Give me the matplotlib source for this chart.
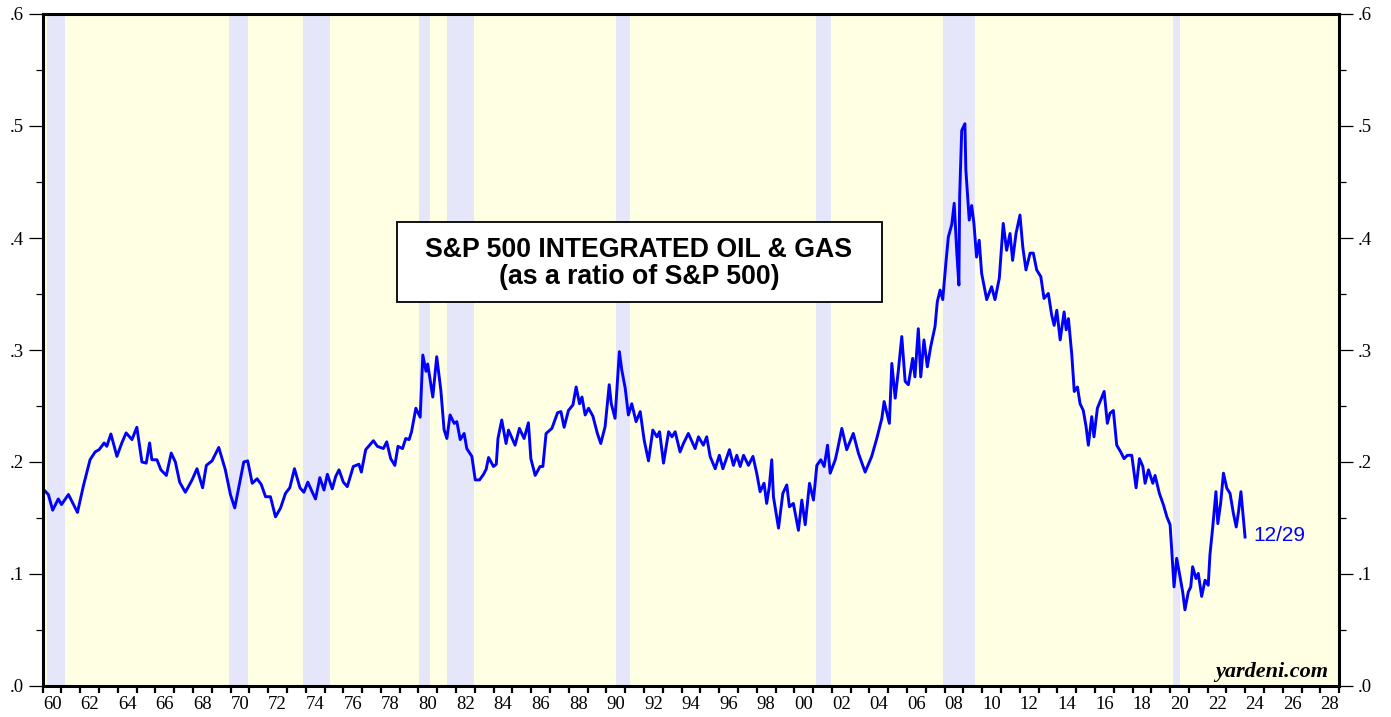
import matplotlib
matplotlib.use("Agg")
import matplotlib.pyplot as plt
from matplotlib.patches import Rectangle
from matplotlib.ticker import FixedLocator, FixedFormatter, NullFormatter

# ---------------- data (decimal year, ratio) ----------------
years = [
    1960.07, 1960.30, 1960.53, 1960.83, 1961.00, 1961.37, 1961.85, 1962.17, 1962.52, 1962.79,
    1963.00, 1963.27, 1963.41, 1963.63, 1963.95, 1964.21, 1964.44, 1964.75, 1965.01, 1965.28,
    1965.51, 1965.69, 1965.81, 1966.08, 1966.29, 1966.58, 1966.84, 1967.06, 1967.29, 1967.59,
    1967.95, 1968.21, 1968.51, 1968.71, 1969.01, 1969.37, 1969.72, 1969.99, 1970.22, 1970.49,
    1970.70, 1970.91, 1971.15, 1971.41, 1971.63, 1971.86, 1972.12, 1972.39, 1972.66, 1972.92,
    1973.15, 1973.40, 1973.69, 1973.90, 1974.11, 1974.35, 1974.52, 1974.75, 1974.97, 1975.15,
    1975.41, 1975.59, 1975.77, 1976.00, 1976.21, 1976.53, 1976.83, 1976.96, 1977.19, 1977.60,
    1977.81, 1978.13, 1978.31, 1978.52, 1978.74, 1978.91, 1979.15, 1979.32, 1979.50, 1979.63,
    1979.86, 1980.09, 1980.23, 1980.40, 1980.49, 1980.76, 1980.97, 1981.19, 1981.36, 1981.51,
    1981.68, 1981.90, 1982.04, 1982.22, 1982.43, 1982.57, 1982.84, 1983.02, 1983.25, 1983.46,
    1983.60, 1983.73, 1983.99, 1984.14, 1984.23, 1984.43, 1984.66, 1984.79, 1985.14, 1985.37,
    1985.62, 1985.85, 1985.98, 1986.21, 1986.47, 1986.62, 1986.79, 1987.10, 1987.40, 1987.58,
    1987.75, 1987.98, 1988.22, 1988.39, 1988.57, 1988.70, 1988.87, 1989.05, 1989.28, 1989.52,
    1989.70, 1989.93, 1990.15, 1990.26, 1990.46, 1990.69, 1990.82, 1991.00, 1991.17, 1991.35,
    1991.58, 1991.80, 1992.01, 1992.24, 1992.47, 1992.69, 1992.83, 1993.04, 1993.31, 1993.49,
    1993.66, 1993.92, 1994.10, 1994.36, 1994.72, 1994.90, 1995.16, 1995.34, 1995.52, 1995.79,
    1996.01, 1996.20, 1996.55, 1996.76, 1996.94, 1997.12, 1997.30, 1997.56, 1997.80, 1998.00,
    1998.18, 1998.39, 1998.53, 1998.67, 1998.80, 1998.89, 1999.16, 1999.39, 1999.60, 1999.74,
    1999.95, 2000.22, 2000.40, 2000.58, 2000.81, 2001.02, 2001.20, 2001.41, 2001.59, 2001.77,
    2001.91, 2002.18, 2002.30, 2002.53, 2002.79, 2003.14, 2003.41, 2003.77, 2004.12, 2004.39,
    2004.66, 2004.78, 2005.06, 2005.19, 2005.37, 2005.54, 2005.72, 2005.90, 2006.07, 2006.30,
    2006.42, 2006.60, 2006.73, 2006.90, 2007.08, 2007.26, 2007.49, 2007.61, 2007.76, 2007.90,
    2008.08, 2008.20, 2008.38, 2008.51, 2008.65, 2008.76, 2008.80, 2008.91, 2009.08, 2009.13,
    2009.31, 2009.44, 2009.56, 2009.70, 2009.84, 2009.97, 2010.24, 2010.50, 2010.68, 2010.91,
    2011.12, 2011.30, 2011.48, 2011.62, 2011.80, 2012.01, 2012.16, 2012.33, 2012.55, 2012.72,
    2012.90, 2013.12, 2013.29, 2013.52, 2013.70, 2013.83, 2013.97, 2014.15, 2014.36, 2014.47,
    2014.59, 2014.77, 2014.90, 2015.07, 2015.21, 2015.38, 2015.53, 2015.65, 2015.83, 2015.95,
    2016.13, 2016.31, 2016.49, 2016.66, 2016.80, 2016.98, 2017.16, 2017.37, 2017.55, 2017.73,
    2017.96, 2018.19, 2018.37, 2018.55, 2018.67, 2018.85, 2019.08, 2019.20, 2019.43, 2019.65,
    2019.83, 2020.00, 2020.21, 2020.35, 2020.53, 2020.67, 2020.79, 2020.97, 2021.10, 2021.20,
    2021.38, 2021.50, 2021.68, 2021.86, 2022.03, 2022.12, 2022.27, 2022.44, 2022.54, 2022.69,
    2022.84, 2023.02, 2023.19, 2023.37, 2023.52, 2023.64, 2023.77, 2023.99,
]
ratio = [
    0.175, 0.171, 0.157, 0.167, 0.162, 0.171, 0.155, 0.179, 0.202, 0.209,
    0.211, 0.217, 0.214, 0.225, 0.205, 0.217, 0.226, 0.220, 0.231, 0.200,
    0.199, 0.217, 0.202, 0.202, 0.193, 0.188, 0.208, 0.200, 0.182, 0.173,
    0.184, 0.194, 0.177, 0.197, 0.201, 0.213, 0.193, 0.171, 0.159, 0.182,
    0.200, 0.201, 0.181, 0.185, 0.180, 0.169, 0.169, 0.151, 0.159, 0.172,
    0.177, 0.194, 0.177, 0.173, 0.182, 0.173, 0.167, 0.186, 0.175, 0.189,
    0.176, 0.187, 0.193, 0.182, 0.178, 0.196, 0.198, 0.191, 0.211, 0.219,
    0.214, 0.212, 0.218, 0.203, 0.197, 0.214, 0.212, 0.221, 0.220, 0.227,
    0.248, 0.240, 0.2955, 0.281, 0.2875, 0.258, 0.294, 0.264, 0.229, 0.221,
    0.242, 0.2345, 0.236, 0.220, 0.2255, 0.212, 0.205, 0.184, 0.184, 0.189,
    0.1935, 0.204, 0.196, 0.198, 0.221, 0.2375, 0.2165, 0.2285, 0.215, 0.230,
    0.221, 0.235, 0.203, 0.188, 0.196, 0.196, 0.2255, 0.230, 0.244, 0.245,
    0.231, 0.246, 0.251, 0.267, 0.252, 0.258, 0.242, 0.248, 0.241, 0.2255,
    0.2165, 0.2315, 0.269, 0.252, 0.239, 0.2985, 0.282, 0.266, 0.242, 0.252,
    0.236, 0.245, 0.2195, 0.201, 0.2285, 0.2225, 0.227, 0.199, 0.227, 0.2225,
    0.227, 0.209, 0.2165, 0.2255, 0.212, 0.2225, 0.215, 0.2225, 0.205, 0.194,
    0.206, 0.194, 0.211, 0.197, 0.206, 0.196, 0.206, 0.197, 0.205, 0.190,
    0.1735, 0.181, 0.163, 0.178, 0.202, 0.169, 0.141, 0.172, 0.1795, 0.160,
    0.163, 0.139, 0.166, 0.144, 0.181, 0.166, 0.197, 0.202, 0.196, 0.215,
    0.190, 0.202, 0.211, 0.230, 0.211, 0.2255, 0.208, 0.191, 0.205, 0.221,
    0.239, 0.254, 0.2345, 0.288, 0.257, 0.282, 0.312, 0.272, 0.269, 0.2925,
    0.276, 0.319, 0.276, 0.309, 0.285, 0.303, 0.321, 0.343, 0.3535, 0.345,
    0.380, 0.401, 0.412, 0.431, 0.3865, 0.358, 0.437, 0.496, 0.502, 0.461,
    0.416, 0.429, 0.413, 0.383, 0.398, 0.3685, 0.345, 0.3565, 0.345, 0.364,
    0.413, 0.389, 0.404, 0.380, 0.404, 0.4205, 0.392, 0.3715, 0.3865, 0.3865,
    0.3715, 0.3655, 0.346, 0.3505, 0.331, 0.322, 0.3355, 0.309, 0.334, 0.318,
    0.328, 0.2955, 0.263, 0.267, 0.252, 0.246, 0.2315, 0.215, 0.2405, 0.2225,
    0.248, 0.2555, 0.263, 0.2345, 0.2435, 0.246, 0.215, 0.209, 0.203, 0.206,
    0.206, 0.177, 0.203, 0.196, 0.181, 0.193, 0.181, 0.188, 0.172, 0.1615,
    0.151, 0.144, 0.0885, 0.114, 0.0975, 0.084, 0.068, 0.084, 0.0885, 0.1065,
    0.096, 0.1005, 0.080, 0.0945, 0.090, 0.117, 0.142, 0.1735, 0.145, 0.163,
    0.190, 0.1765, 0.172, 0.154, 0.142, 0.1555, 0.1735, 0.133,
]

# recession periods (decimal years)
rec_start = [1960.25, 1969.92, 1973.84, 1980.02, 1981.52, 1990.52, 2001.17, 2007.92, 2020.16]
rec_end   = [1961.18, 1970.92, 1975.28, 1980.60, 1982.95, 1991.26, 2001.95, 2009.60, 2020.52]

title_lines = ["S&P 500 INTEGRATED OIL & GAS", "(as a ratio of S&P 500)"]
end_label = "12/29"
source = "yardeni.com"

x_label_years = list(range(1960, 2029, 2))
x_labels = ["%02d" % (y % 100) for y in x_label_years]
y_major = [0.0, 0.1, 0.2, 0.3, 0.4, 0.5, 0.6]
y_labels = [".0", ".1", ".2", ".3", ".4", ".5", ".6"]
y_minor = [0.05, 0.15, 0.25, 0.35, 0.45, 0.55]

# ---------------- figure ----------------
W, H = 1391, 717
fig = plt.figure(figsize=(W / 100, H / 100), dpi=100)
fig.patch.set_facecolor("white")
ax = fig.add_axes([42.7 / W, 1 - 686 / H, 1296.5 / W, 672 / H])
ax.set_facecolor("#FFFFE3")

for s, e in zip(rec_start, rec_end):
    ax.axvspan(s, e, color="#E6E6FA", lw=0, zorder=1)

ax.plot(years, ratio, color="#0000FF", lw=2.1, zorder=3, solid_joinstyle="round")

ax.set_xlim(1960, 2029)
ax.set_ylim(0, 0.6)

# x ticks: every year (major, no labels); labels centered mid-year via minor ticks
ax.xaxis.set_major_locator(FixedLocator(list(range(1960, 2030))))
ax.xaxis.set_major_formatter(NullFormatter())
ax.xaxis.set_minor_locator(FixedLocator([y + 0.5 for y in x_label_years]))
ax.xaxis.set_minor_formatter(FixedFormatter(x_labels))
ax.tick_params(axis="x", which="major", direction="out", length=5, width=1.6, color="black")
ax.tick_params(axis="x", which="minor", length=0, pad=7, labelsize=13.5)

# y ticks both sides
ax.yaxis.set_major_locator(FixedLocator(y_major))
ax.yaxis.set_major_formatter(FixedFormatter(y_labels))
ax.yaxis.set_minor_locator(FixedLocator(y_minor))
ax.tick_params(axis="y", which="major", direction="out", length=10, width=0.9,
               left=True, right=True, labelleft=True, labelright=True, labelsize=13.5, pad=3.5)
ax.tick_params(axis="y", which="minor", direction="out", length=5, width=0.9,
               left=True, right=True)
for lab in ax.get_xticklabels(minor=True):
    lab.set_fontfamily("Liberation Serif")
for t in ax.yaxis.get_major_ticks():
    t.label1.set_fontfamily("Liberation Serif")
    t.label2.set_fontfamily("Liberation Serif")
    t.label2.set_fontsize(13.5)

for sp in ax.spines.values():
    sp.set_linewidth(2.2)
    sp.set_color("black")
    sp.set_zorder(5)

# title box
x0 = (396.7 - 42.7) / 1296.5
x1 = (881.7 - 42.7) / 1296.5
y0 = (686 - 301.7) / 672
y1 = (686 - 221.7) / 672
ax.add_patch(Rectangle((x0, y0), x1 - x0, y1 - y0, transform=ax.transAxes,
                       facecolor="white", edgecolor="black", lw=1.3, zorder=6))
ax.text(0.4595, (686 - 250) / 672, title_lines[0], transform=ax.transAxes,
        ha="center", va="center", fontsize=19.2, fontweight="bold",
        family="Liberation Sans", zorder=7)
ax.text(0.4605, (686 - 277) / 672, title_lines[1], transform=ax.transAxes,
        ha="center", va="center", fontsize=19.2, fontweight="bold",
        family="Liberation Sans", zorder=7)

# end label
ax.text(years[-1] + 0.42, ratio[-1] + 0.001, end_label, color="#0000FF",
        ha="left", va="center", fontsize=15, family="Liberation Sans", zorder=7)

# source
ax.text((1328 - 42.7) / 1296.5, (686 - 677) / 672, source, transform=ax.transAxes,
        ha="right", va="baseline", fontsize=16, fontweight="bold", fontstyle="italic",
        family="Liberation Serif", zorder=7)

fig.savefig("out.png", dpi=100, facecolor="white")
